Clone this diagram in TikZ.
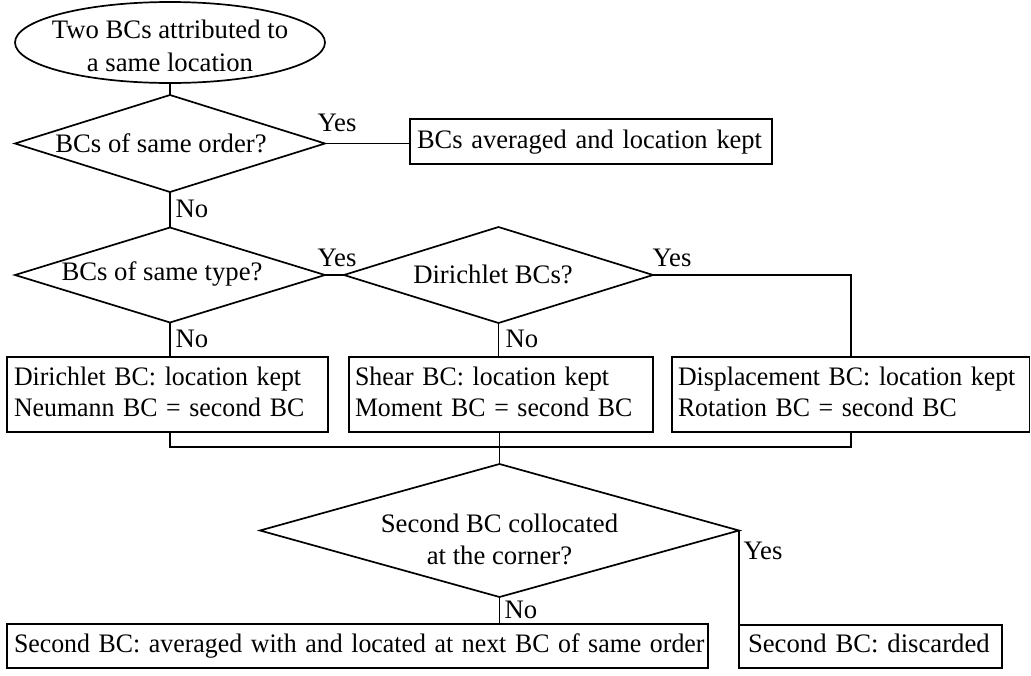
\documentclass[tikz,border=0pt]{standalone}
\usepackage{fontspec}
\usepackage{graphicx}
\setmainfont{Liberation Serif}
\usetikzlibrary{shapes.geometric}
\newcommand{\boxlines}[1]{\begin{tabular}{@{}l@{}}#1\end{tabular}}
\newcommand{\narrowlines}[1]{\scalebox{0.968}[1]{\boxlines{#1}}}
\begin{document}
\begin{tikzpicture}[x=1pt,y=-1pt,
  every node/.style={font=\fontsize{26.7}{31.6}\selectfont, inner sep=0pt, outer sep=0pt},
  conn/.style={line width=1.7pt},
  startshape/.style={ellipse, draw, line width=1.7pt, minimum width=310pt, minimum height=81pt},
  decision/.style={diamond, draw, line width=1.7pt},
  actionbox/.style={rectangle, draw, line width=1.7pt, inner xsep=7pt, inner ysep=0pt, align=left},
  txt/.style={align=center}
]
\useasboundingbox (0,0) rectangle (1031,675);

% start
\node[startshape] (start) at (170,42.5) {};
\node[txt, font=\fontsize{26.7}{33}\selectfont] (startT) at (170,45.5) {Two BCs attributed to\\a same location};

% decision 1
\node[decision, minimum width=310pt, minimum height=97pt] (d1) at (170,143.5) {};
\node (d1T) at (161,143) {BCs of same order?};
\node[actionbox, text width=348pt, minimum height=45pt] (b1) at (591,141.8) {\scalebox{0.99}[1]{\boxlines{BCs averaged and location kept}}};
\node (y1) at (337,123) {Yes};
\node (n1) at (192,209) {No};

% decision 2 and 3
\node[decision, minimum width=310pt, minimum height=95pt] (d2) at (170,275) {};
\node (d2T) at (162,274) {BCs of same type?};
\node[decision, minimum width=309pt, minimum height=96pt] (d3) at (498.5,275) {};
\node (d3T) at (493,274) {Dirichlet BCs?};
\node (y2) at (337,258) {Yes};
\node (y3) at (672,258) {Yes};
\node (n2) at (192,339) {No};
\node (n3) at (522,339) {No};

% middle boxes
\node[actionbox, text width=307pt, minimum height=75pt] (bA) at (167.5,394.5) {\raisebox{-2pt}{\narrowlines{Dirichlet BC: location kept\\Neumann BC = second BC}}};
\node[actionbox, inner xsep=6pt, text width=292pt, minimum height=75pt] (bB) at (501,394.5) {\raisebox{-2pt}{\narrowlines{Shear BC: location kept\\Moment BC = second BC}}};
\node[actionbox, inner xsep=6pt, text width=345.5pt, minimum height=75pt] (bC) at (850.75,394.5) {\raisebox{-2pt}{\narrowlines{Displacement BC: location kept\\Rotation BC = second BC}}};

% decision 4
\node[decision, minimum width=479pt, minimum height=133pt] (d4) at (499.5,530.5) {};
\node[txt, font=\fontsize{26.7}{32.3}\selectfont] (d4T) at (499.5,539.5) {Second BC collocated\\at the corner?};
\node (y4) at (763,551) {Yes};
\node (n4) at (521,610) {No};

% bottom boxes
\node[actionbox, inner xsep=7pt, text width=687pt, minimum height=44pt] (bN) at (357.5,646) {\narrowlines{Second BC: averaged with and located at next BC of same order}};
\node[actionbox, inner xsep=9pt, text width=245pt, minimum height=43pt] (bY) at (870.5,646.5) {\boxlines{Second BC: discarded}};

% connectors
\draw[conn] (start) -- (d1);
\draw[conn] (d1.east) -- (d1.east -| b1.west);
\draw[conn] (d1.south) -- (d2.north);
\draw[conn] (d2.east) -- (d3.west);
\draw[conn] (d2.south) -- (d2.south |- bA.north);
\draw[conn] (d3.south) -- (d3.south |- bB.north);
\draw[conn] (d3.east) -| (bC.north);
\draw[conn] (d2.south |- bA.south) -- ++(0,15) -| (bC.south);
\draw[conn] (d4.north |- bB.south) -- (d4.north);
\draw[conn] (d4.south) -- (d4.south |- bN.north);
\draw[conn] (d4.east) -- (d4.east |- bY.north);
\end{tikzpicture}
\end{document}
